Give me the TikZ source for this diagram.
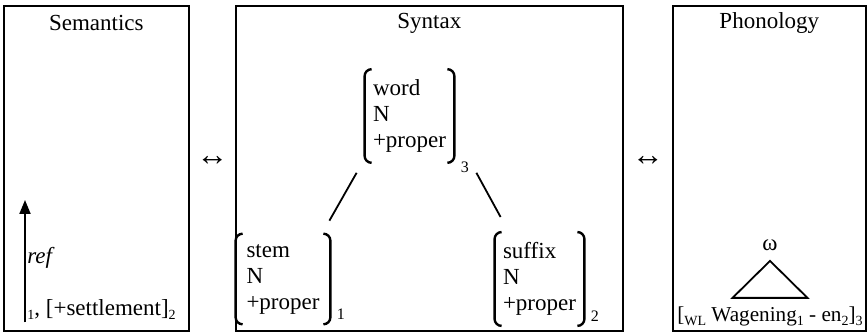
\documentclass[tikz,border=0pt]{standalone}
\usepackage{fontspec}
\setmainfont{Liberation Serif}
\usetikzlibrary{arrows.meta, positioning, calc}
\tikzset{
  panel/.style={rectangle, draw, line width=0.8pt, minimum width=#1, minimum height=162.5pt,
                anchor=north west, inner sep=0pt},
  panel/.default=92.5pt,
  lbl/.style={font=\fontsize{11.5}{13}\selectfont},
  avm/.style={align=left, inner xsep=4pt, inner ysep=5pt, minimum width=#1,
              font=\fontsize{11.5}{13}\selectfont},
  avm/.default=43.5pt,
  brak/.style={line width=1.2pt, rounded corners=3.5pt},
  idx/.style={font=\fontsize{8}{9}\selectfont, inner sep=0pt, anchor=west},
  branch/.style={line width=0.9pt},
  refarrow/.style={-{Triangle[width=5.5pt,length=7pt]}, line width=1pt},
}
% small lowered index
\newcommand{\lowidx}[1]{\raisebox{-2pt}{\fontsize{7}{8}\selectfont #1}}
% square brackets with curled ends round an AVM node
\newcommand{\avmbrak}[1]{%
  \draw[brak] ([xshift=3.5pt]#1.north west) -- (#1.north west) -- (#1.south west) -- ([xshift=3.5pt]#1.south west);
  \draw[brak] ([xshift=-3.5pt]#1.north east) -- (#1.north east) -- (#1.south east) -- ([xshift=-3.5pt]#1.south east);
}
\begin{document}
\begin{tikzpicture}[x=0.5pt, y=-0.5pt]
  \useasboundingbox (0,0) rectangle (868,335);

  % the three panels
  \node[panel] (sem) at (3,5) {};
  \node[panel=193.5pt] (syn) at (235,5) {};
  \node[panel=96.5pt] (pho) at (672,5) {};
  \node[lbl] (semtitle) at ([yshift=-9pt]sem.north) {Semantics};
  \node[lbl] (syntitle) at ([yshift=-9pt]syn.north) {Syntax};
  \node[lbl] (photitle) at ([yshift=-9pt]pho.north) {Phonology};
  \node[font=\fontsize{16}{16}\selectfont] (link1) at ([yshift=3.5pt]$(sem.east)!0.5!(syn.west)$) {↔};
  \node[font=\fontsize{16}{16}\selectfont] (link2) at ([yshift=3.5pt]$(syn.east)!0.5!(pho.west)$) {↔};

  % semantics
  \node[lbl, anchor=base west, inner sep=0pt] (settle) at (27,316)
       {\lowidx{1}, [+settlement]\lowidx{2}};
  \coordinate (reftip) at (25,200);
  \draw[refarrow] ([xshift=-1pt,yshift=-1pt]settle.south west) -- (reftip);
  \node[lbl, anchor=west, inner sep=0pt] (ref) at (27,258) {\textit{ref}};

  % syntax tree
  \node[avm] (word) at (409.5,116) {word\\N\\+proper};
  \node[avm=47pt] (stem) at (283,279) {stem\\N\\+proper};
  \node[avm=44pt] (suffix) at (539.5,279) {suffix\\N\\+proper};
  \avmbrak{word}
  \avmbrak{stem}
  \avmbrak{suffix}
  \node[idx] (wordidx) at ([xshift=3pt,yshift=-2pt]word.south east) {3};
  \node[idx] (stemidx) at ([xshift=3pt,yshift=5pt]stem.south east) {1};
  \node[idx] (suffixidx) at ([xshift=3pt,yshift=5pt]suffix.south east) {2};
  \draw[branch] ([xshift=-4pt,yshift=-5pt]word.south west) -- ([xshift=-0.5pt,yshift=6.5pt]stem.north east);
  \draw[branch] ([xshift=11pt,yshift=-5pt]word.south east) -- ([xshift=3pt,yshift=7.5pt]suffix.north west);

  % phonology
  \node[lbl, inner sep=1pt] (omega) at (770,245) {ω};
  \draw[branch] ([yshift=-4pt]omega.south) -- ++(-37.5,37) -- ++(75,0) -- cycle;
  \node[inner sep=0pt, anchor=base, font=\fontsize{10.6}{12}\selectfont] (wagening) at (770,322)
       {[\lowidx{WL} Wagening\lowidx{1} - en\lowidx{2}]\lowidx{3}};
\end{tikzpicture}
\end{document}
